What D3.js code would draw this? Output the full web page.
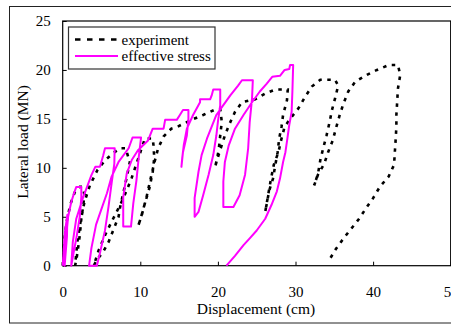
<!DOCTYPE html>
<html>
<head>
<meta charset="utf-8">
<script src="https://cdn.jsdelivr.net/npm/d3@7"></script>
<style>
  body { margin: 0; background: #fff; }
  svg text { font-family: "Liberation Serif", "Times New Roman", Times, "DejaVu Serif", serif; fill: #000; }
</style>
</head>
<body>
<div id="chart"></div>
<script>
// tick labels
const xTicks = [0, 10, 20, 30, 40, 50];
const yTicks = [0, 5, 10, 15, 20, 25];

// experiment (black dashed) - displacement (cm) / lateral load (MN)
const expDisp = [0,0.2,0.5,1.0,1.6,2.2,2.6,2.8,2.6,2.4,2.2,2.0,1.8,1.6,
  1.9,2.3,2.8,3.5,4.5,5.5,6.5,7.4,8.1,
  8.45,8.7,8.45,8.0,7.4,7.2,6.5,5.9,5.2,4.4,4.0,
  4.6,5.5,6.5,7.4,8.2,8.9,9.5,10.1,10.6,11.6,
  11.7,11.8,11.6,11.2,10.6,10.0,9.7,
  10.2,10.8,11.3,11.8,12.3,13.0,14.0,14.8,15.3,16.6,18.1,19.5,20.3,
  20.5,20.3,20.1,19.8,19.6,
  20.2,20.9,21.5,22.2,23.1,24.8,26.1,27.4,29.0,
  28.9,28.4,28.2,27.9,27.7,27.4,27.1,26.7,26.5,26.1,
  26.8,27.2,27.8,28.2,28.6,29.3,30.4,31.2,32.1,33.2,35.1,
  35.5,35.1,34.7,34.4,34.0,33.6,33.2,32.9,32.4,
  32.9,33.7,34.2,34.8,35.2,35.7,36.2,36.8,37.7,39.2,40.5,42.0,43.2,
  43.5,43.2,43.1,43.0,43.0,42.9,42.8,42.7,42.0,40.9,40.0,39.2,38.2,37.2,36.2,35.2,34.4];
const expLoad = [0,2.5,4.5,6.3,7.6,8.05,8.05,7.2,5.9,4.8,3.1,1.9,0.8,0,
  2.5,4.5,6.5,8.2,9.8,10.8,11.5,12.0,12.0,
  11.1,10.8,9.8,8.1,6.0,5.0,3.6,2.4,1.4,0.6,0,
  1.5,3.2,4.8,6.2,7.6,9.0,10.4,11.8,13.0,13.0,
  12.3,11.0,9.6,8.0,6.4,4.7,4.0,
  5.2,7.0,8.8,10.5,12.0,13.2,14.0,14.2,14.4,14.9,15.4,15.9,16.0,
  14.7,13.3,11.8,10.6,10.0,
  11.6,13.3,14.5,15.7,16.7,17.0,17.6,18.0,18.0,
  16.9,15.4,14.2,13.0,11.6,10.3,8.9,7.9,7.2,5.5,
  8.7,10.3,11.6,13.0,14.2,15.0,16.1,17.2,18.3,19.0,19.0,
  18.4,17.1,15.9,14.7,13.3,12.1,10.8,9.4,8.2,
  9.3,10.4,11.6,12.8,14.0,15.4,16.6,17.8,18.8,19.5,20.0,20.5,20.5,
  19.5,18.1,16.7,15.4,14.2,12.8,11.6,10.3,9.1,8.1,6.9,6.0,4.8,3.8,2.8,1.7,0.65];

// effective stress (magenta)
const effDisp = [0,0.3,0.6,0.55,0.3,0.25,
  0.4,0.7,1.1,1.5,1.75,2.4,
  2.4,2.2,1.8,1.4,1.1,
  1.3,1.75,2.6,3.7,4.2,4.8,5.2,5.45,6.7,
  6.65,6.3,5.9,5.45,4.8,4.4,3.4,
  3.7,4.3,5.0,5.7,6.3,7.2,8.5,9.0,10.1,
  9.8,9.5,9.1,8.8,7.8,
  7.8,8.25,8.9,9.7,11.0,11.6,13.0,13.2,14.7,15.1,15.5,16.2,
  16.2,16.0,15.5,15.3,15.4,15.6,16.0,16.8,17.7,17.7,19.0,19.2,19.4,20.3,
  20.3,20.0,19.8,19.4,18.8,18.1,17.5,17.0,
  17.0,17.5,17.9,18.6,19.2,19.8,20.7,21.6,22.6,23.1,24.5,
  24.4,24.1,23.9,23.5,22.8,22.0,20.7,
  20.7,20.9,21.4,22.2,23.3,24.4,25.4,26.3,27.0,28.0,28.6,29.2,29.3,29.7,
  29.6,29.5,29.2,28.9,28.7,28.4,28.0,27.6,26.9,26.1,25.0,24.1,23.3,22.2,21.1];
const effLoad = [0,3.5,5.2,3.0,0.5,0,
  2.5,5.0,6.5,7.5,8.05,8.05,
  7.0,5.0,3.0,1.3,0,
  2.4,4.8,6.9,9.25,10.1,10.1,11.2,12.0,12.0,
  10.4,8.4,6.0,3.6,1.3,0,0,
  1.8,4.2,5.8,7.4,9.1,10.6,12.0,13.1,13.1,
  11.1,8.7,6.4,4.0,4.0,
  7.0,9.4,10.8,11.8,12.8,14.0,14.0,14.9,14.9,15.4,15.9,15.9,
  15.0,13.3,11.6,10.1,11.0,12.3,14.0,15.4,16.7,17.0,17.0,17.4,18.0,18.0,
  16.4,14.7,13.3,11.3,9.3,7.2,5.5,5.0,
  6.9,9.6,11.3,13.0,14.2,15.4,16.4,17.4,18.4,18.95,18.95,
  17.1,14.7,12.0,9.3,7.2,6.0,6.0,
  8.6,10.6,12.3,14.0,15.4,16.7,17.8,18.6,19.3,19.4,20.0,20.1,20.5,20.5,
  17.8,15.7,14.4,12.7,11.6,10.6,8.9,7.6,6.2,4.8,3.6,2.8,2.1,1.0,0];

const W = 451, H = 325;
const serif = '"Liberation Serif", "Times New Roman", Times, "DejaVu Serif", serif';

const svg = d3.select("#chart").append("svg")
  .attr("width", W).attr("height", H);

// outer frame
svg.append("rect")
  .attr("x", 9.5).attr("y", 6.5)
  .attr("width", 460).attr("height", 316.5)
  .attr("fill", "none").attr("stroke", "#222").attr("stroke-width", 1);

const x = d3.scaleLinear().domain([0, 50]).range([62.7, 450.7]);
const y = d3.scaleLinear().domain([0, 25]).range([265.7, 21]);

// plot box
svg.append("rect")
  .attr("x", x(0)).attr("y", y(25))
  .attr("width", x(50) - x(0)).attr("height", y(0) - y(25))
  .attr("fill", "none").attr("stroke", "#000").attr("stroke-width", 1.2);

// x axis
const gx = svg.append("g")
  .attr("transform", "translate(0," + y(0) + ")")
  .call(d3.axisBottom(x).tickValues(xTicks).tickSize(-4).tickPadding(21));
gx.select(".domain").remove();
gx.attr("font-family", serif);
gx.selectAll("text").style("font-size", "15px").style("font-family", serif);

// y axis
const gy = svg.append("g")
  .attr("transform", "translate(" + x(0) + ",0)")
  .call(d3.axisLeft(y).tickValues(yTicks).tickSize(-4).tickPadding(12));
gy.select(".domain").remove();
gy.attr("font-family", serif);
gy.selectAll("text").style("font-size", "15px").style("font-family", serif);

svg.append("text")
  .attr("x", 256).attr("y", 314)
  .attr("text-anchor", "middle")
  .style("font-size", "15.5px")
  .text("Displacement (cm)");

svg.append("text")
  .attr("transform", "translate(28,142) rotate(-90)")
  .attr("text-anchor", "middle")
  .style("font-size", "15.5px")
  .text("Lateral load (MN)");

const line = d3.line()
  .x(d => x(d[0]))
  .y(d => y(d[1]));

const expData = d3.zip(expDisp, expLoad);
const effData = d3.zip(effDisp, effLoad);

svg.append("path")
  .datum(expData)
  .attr("d", line)
  .attr("fill", "none")
  .attr("stroke", "#000")
  .attr("stroke-width", 2.6)
  .attr("stroke-dasharray", "3.5,5.5");

svg.append("path")
  .datum(effData)
  .attr("d", line)
  .attr("fill", "none")
  .attr("stroke", "#ff00ff")
  .attr("stroke-width", 2)
  .attr("stroke-linejoin", "round");

// legend
const lg = svg.append("g");
lg.append("rect")
  .attr("x", 68.5).attr("y", 27)
  .attr("width", 146.5).attr("height", 42)
  .attr("fill", "#fff").attr("stroke", "#333").attr("stroke-width", 1.2);
lg.append("line")
  .attr("x1", 75).attr("x2", 117).attr("y1", 39.5).attr("y2", 39.5)
  .attr("stroke", "#000").attr("stroke-width", 2.6).attr("stroke-dasharray", "5.5,6.5");
lg.append("line")
  .attr("x1", 75).attr("x2", 118).attr("y1", 56).attr("y2", 56)
  .attr("stroke", "#ff00ff").attr("stroke-width", 2);
lg.append("text").attr("x", 121.5).attr("y", 44.5).style("font-size", "15px").text("experiment");
lg.append("text").attr("x", 121.5).attr("y", 61).style("font-size", "15px").text("effective stress");
</script>
</body>
</html>
